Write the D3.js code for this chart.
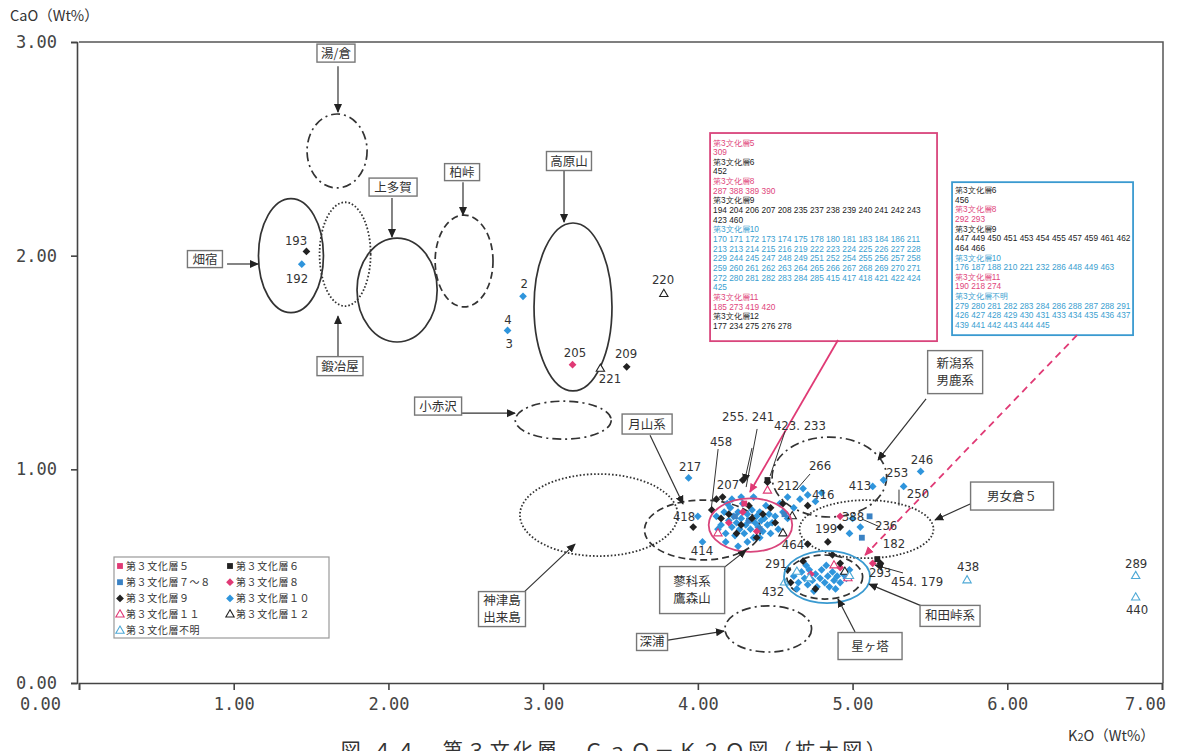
<!DOCTYPE html>
<html><head><meta charset="utf-8">
<script src="https://cdn.jsdelivr.net/npm/d3@7"></script>
<style>
body{margin:0;background:#fff}
svg{display:block}
.num{font-family:"Liberation Sans Narrow","Arial Narrow","DejaVu Sans Condensed","Liberation Sans",sans-serif;font-size:13px;fill:#333}
.jp{font-family:"Noto Sans CJK JP","Noto Sans CJK SC",sans-serif;fill:#333}
.boxtxt{font-family:"Liberation Sans",Arial,sans-serif;font-size:8.3px}
</style>
</head><body>
<svg id="chart" width="1188" height="751"></svg>
<script>
// ---- axes ----
const xTicks = [0, 1, 2, 3, 4, 5, 6, 7];
const yTicks = [0, 1, 2, 3];

// ---- K2O / CaO (wt%) per cultural layer: [K2O, CaO] ----
const layer5 = [[4.30, 0.84]];
const layer6 = [[4.45, 0.95], [5.16, 0.58]];
const layer7to8 = [[4.24, 0.78], [4.40, 0.72], [5.06, 0.68], [5.11, 0.78], [4.56, 0.79], [4.33, 0.76]];
const layer8 = [[3.19, 1.49], [4.92, 0.78], [4.20, 0.75], [4.38, 0.71], [4.73, 0.51], [4.92, 0.54], [5.13, 0.56], [4.29, 0.80]];
const layer9 = [[1.47, 2.02], [3.54, 1.48], [3.97, 0.73], [4.09, 0.81], [4.16, 0.87], [4.29, 0.95], [4.15, 0.77],
  [4.20, 0.79], [4.28, 0.74], [4.35, 0.77], [4.42, 0.79], [4.25, 0.70], [4.38, 0.68], [4.50, 0.75], [4.33, 0.83],
  [4.47, 0.82], [4.71, 0.83], [4.71, 0.65], [4.84, 0.66], [4.92, 0.73], [4.68, 0.57], [4.60, 0.47], [4.87, 0.60],
  [4.92, 0.56], [5.18, 0.56], [4.76, 0.44], [4.58, 0.53], [4.45, 0.94], [4.12, 0.86], [4.55, 0.84]];
const layer10 = [[1.44, 1.96], [2.87, 1.81], [2.77, 1.65], [3.94, 0.96], [4.03, 0.66], [4.00, 0.78],
  [5.13, 0.92], [5.20, 0.95], [5.44, 0.99], [5.33, 0.92],
  [4.12, 0.78], [4.15, 0.74], [4.17, 0.80], [4.18, 0.70], [4.20, 0.76], [4.21, 0.82], [4.22, 0.73], [4.23, 0.78],
  [4.24, 0.69], [4.25, 0.75], [4.26, 0.80], [4.27, 0.72], [4.28, 0.77], [4.29, 0.84], [4.30, 0.70], [4.31, 0.74],
  [4.32, 0.79], [4.33, 0.76], [4.34, 0.72], [4.35, 0.81], [4.36, 0.68], [4.37, 0.75], [4.38, 0.78], [4.39, 0.73],
  [4.40, 0.80], [4.41, 0.76], [4.42, 0.71], [4.43, 0.77], [4.44, 0.83], [4.45, 0.74], [4.46, 0.79], [4.48, 0.75],
  [4.50, 0.78], [4.52, 0.72], [4.55, 0.80], [4.58, 0.77], [4.28, 0.87], [4.22, 0.86], [4.36, 0.87], [4.18, 0.66],
  [4.40, 0.68], [4.13, 0.72], [4.47, 0.70], [4.32, 0.66], [4.19, 0.84], [4.26, 0.64],
  [4.58, 0.87], [4.66, 0.86], [4.71, 0.88], [4.68, 0.91], [4.76, 0.85], [4.62, 0.82], [4.80, 0.89], [4.53, 0.84],
  [5.05, 0.73], [5.00, 0.77], [4.98, 0.70],
  [4.62, 0.50], [4.65, 0.47], [4.67, 0.52], [4.69, 0.49], [4.71, 0.46], [4.72, 0.53], [4.74, 0.48], [4.76, 0.51],
  [4.77, 0.45], [4.79, 0.49], [4.80, 0.53], [4.82, 0.47], [4.84, 0.50], [4.85, 0.45], [4.87, 0.52], [4.88, 0.48],
  [4.90, 0.50], [4.92, 0.47], [4.94, 0.51], [4.96, 0.49], [4.70, 0.55], [4.83, 0.55], [4.64, 0.44], [4.75, 0.43],
  [4.89, 0.44], [4.98, 0.53]];
const layer11 = [[4.45, 0.90], [4.13, 0.70], [4.88, 0.55], [4.97, 0.49]];
const layer12 = [[3.78, 1.82], [3.37, 1.47], [4.61, 0.78], [4.55, 0.70], [4.95, 0.52]];
const layerUnknown = [[5.74, 0.48], [6.83, 0.50], [6.83, 0.40], [4.56, 0.47], [4.64, 0.52], [4.98, 0.50], [4.72, 0.49]];

// ---- source-area ellipses: centre K2O, centre CaO, half-width, half-height ----
const sourceAreas = [
  {name: "湯/倉", cx: 1.668, cy: 2.49, rx: 0.194, ry: 0.173, line: "dashdot"},
  {name: "畑宿", cx: 1.37, cy: 2.00, rx: 0.21, ry: 0.267, line: "solid"},
  {name: "鍛冶屋", cx: 1.72, cy: 2.007, rx: 0.165, ry: 0.243, line: "dotted"},
  {name: "上多賀", cx: 2.056, cy: 1.839, rx: 0.259, ry: 0.243, line: "solid"},
  {name: "柏峠", cx: 2.489, cy: 1.975, rx: 0.187, ry: 0.215, line: "dashed"},
  {name: "高原山", cx: 3.193, cy: 1.76, rx: 0.252, ry: 0.393, line: "solid"},
  {name: "小赤沢", cx: 3.13, cy: 1.23, rx: 0.31, ry: 0.089, line: "dashdot"},
  {name: "神津島", cx: 3.36, cy: 0.786, rx: 0.51, ry: 0.192, line: "dotted"},
  {name: "月山系", cx: 4.03, cy: 0.716, rx: 0.375, ry: 0.14, line: "dashed"},
  {name: "新潟系", cx: 4.85, cy: 0.964, rx: 0.37, ry: 0.187, line: "dashdot"},
  {name: "男女倉5", cx: 5.09, cy: 0.72, rx: 0.433, ry: 0.136, line: "dotted"},
  {name: "深浦", cx: 4.455, cy: 0.253, rx: 0.28, ry: 0.108, line: "dashdot"},
  {name: "和田峠系", cx: 4.82, cy: 0.496, rx: 0.245, ry: 0.103, line: "dashed"}
];
const highlightAreas = [
  {name: "蓼科系", cx: 4.34, cy: 0.739, rx: 0.27, ry: 0.125, color: "pink"},
  {name: "星ヶ塔", cx: 4.835, cy: 0.496, rx: 0.278, ry: 0.122, color: "blue"}
];

// ---- boxed area names with arrows (from -> to, in K2O/CaO units) ----
const areaLabels = [
  {t: ["湯/倉"], x: 1.661, y: 2.948, w: 38, h: 18, a: [1.674, 2.887, 1.674, 2.672]},
  {t: ["畑宿"], x: 0.814, y: 1.984, w: 35, h: 17, a: [0.957, 1.961, 1.157, 1.961]},
  {t: ["上多賀"], x: 2.030, y: 2.321, w: 48, h: 18, a: [2.023, 2.27, 2.023, 2.087]},
  {t: ["鍛冶屋"], x: 1.687, y: 1.483, w: 46, h: 19, a: [1.674, 1.530, 1.674, 1.717]},
  {t: ["柏峠"], x: 2.476, y: 2.391, w: 35, h: 17, a: [2.482, 2.344, 2.482, 2.19]},
  {t: ["高原山"], x: 3.167, y: 2.443, w: 45, h: 19, a: [3.135, 2.396, 3.135, 2.157]},
  {t: ["小赤沢"], x: 2.321, y: 1.296, w: 47, h: 18, a: [2.476, 1.263, 2.818, 1.263]},
  {t: ["月山系"], x: 3.672, y: 1.212, w: 50, h: 20, a: [3.691, 1.16, 3.904, 0.838]},
  {t: ["新潟系", "男鹿系"], x: 5.663, y: 1.455, w: 55, h: 43, a: [5.475, 1.33, 5.165, 1.044]},
  {t: ["男女倉５"], x: 6.031, y: 0.875, w: 83, h: 28, a: [5.760, 0.838, 5.533, 0.763]},
  {t: ["蓼科系", "鷹森山"], x: 3.963, y: 0.435, w: 65, h: 47, a: [4.156, 0.533, 4.312, 0.622]},
  {t: ["神津島", "出来島"], x: 2.734, y: 0.346, w: 47, h: 35, a: [2.883, 0.43, 3.206, 0.65]},
  {t: ["深浦"], x: 3.704, y: 0.192, w: 31, h: 17, a: [3.807, 0.201, 4.169, 0.243]},
  {t: ["和田峠系"], x: 5.630, y: 0.314, w: 60, h: 21, a: [5.449, 0.36, 5.107, 0.463]},
  {t: ["星ヶ塔"], x: 5.113, y: 0.173, w: 64, h: 27, a: [5.016, 0.239, 4.906, 0.393]}
];

// ---- sample numbers beside points ----
const pointLabels = [
  {t: "193", x: 1.403, y: 2.073}, {t: "192", x: 1.409, y: 1.895}, {t: "2", x: 2.877, y: 1.872},
  {t: "4", x: 2.773, y: 1.703}, {t: "3", x: 2.78, y: 1.591}, {t: "205", x: 3.206, y: 1.549},
  {t: "209", x: 3.536, y: 1.54}, {t: "221", x: 3.432, y: 1.427}, {t: "220", x: 3.775, y: 1.89},
  {t: "217", x: 3.95, y: 1.011}, {t: "458", x: 4.15, y: 1.132}, {t: "255. 241", x: 4.325, y: 1.245},
  {t: "423. 233", x: 4.66, y: 1.203}, {t: "207", x: 4.195, y: 0.927}, {t: "212", x: 4.583, y: 0.922},
  {t: "266", x: 4.79, y: 1.02}, {t: "418", x: 3.911, y: 0.781}, {t: "414", x: 4.027, y: 0.618},
  {t: "416", x: 4.81, y: 0.88}, {t: "413", x: 5.048, y: 0.922}, {t: "253", x: 5.288, y: 0.983},
  {t: "246", x: 5.449, y: 1.044}, {t: "250", x: 5.423, y: 0.889}, {t: "388", x: 5.003, y: 0.781},
  {t: "199", x: 4.829, y: 0.725}, {t: "236", x: 5.217, y: 0.739}, {t: "182", x: 5.268, y: 0.655},
  {t: "464", x: 4.615, y: 0.646}, {t: "291", x: 4.506, y: 0.557}, {t: "432", x: 4.486, y: 0.426},
  {t: "293", x: 5.178, y: 0.515}, {t: "454. 179", x: 5.417, y: 0.477}, {t: "438", x: 5.747, y: 0.543},
  {t: "289", x: 6.833, y: 0.557}, {t: "440", x: 6.839, y: 0.346}
];
// thin leader lines [x1, y1, x2, y2]
const leaders = [
  [4.131, 1.095, 4.085, 0.805], [4.383, 1.189, 4.312, 0.917], [4.564, 1.179, 4.467, 0.969],
  [4.725, 0.978, 4.641, 0.908], [5.178, 0.73, 5.061, 0.767], [5.30, 0.905, 5.30, 0.83]
];
const leaderArrows = [[5.326, 0.515, 5.145, 0.552], [4.35, 1.10, 4.30, 0.94]];

// ---- sample-number lists in the two callout boxes ----
const pinkBox = {x0: 4.079, x1: 5.546, y0: 2.574, y1: 1.600};
const pinkLines = [
  ["第3文化層5", "p"], ["309", "p"], ["第3文化層6", "k"], ["452", "k"], ["第3文化層8", "p"],
  ["287 388 389 390", "p"], ["第3文化層9", "k"],
  ["194 204 206 207 208 235 237 238 239 240 241 242 243", "k"], ["423 460", "k"], ["第3文化層10", "b"],
  ["170 171 172 173 174 175 178 180 181 183 184 186 211", "b"],
  ["213 213 214 215 216 219 222 223 224 225 226 227 228", "b"],
  ["229 244 245 247 248 249 251 252 254 255 256 257 258", "b"],
  ["259 260 261 262 263 264 265 266 267 268 269 270 271", "b"],
  ["272 280 281 282 283 284 285 415 417 418 421 422 424", "b"], ["425", "b"],
  ["第3文化層11", "p"], ["185 273 419 420", "p"], ["第3文化層12", "k"], ["177 234 275 276 278", "k"]
];
const blueBox = {x0: 5.643, x1: 6.813, y0: 2.344, y1: 1.628};
const blueLines = [
  ["第3文化層6", "k"], ["456", "k"], ["第3文化層8", "p"], ["292 293", "p"], ["第3文化層9", "k"],
  ["447 449 450 451 453 454 455 457 459 461 462", "k"], ["464 466", "k"], ["第3文化層10", "b"],
  ["176 187 188 210 221 232 286 448 449 463", "b"], ["第3文化層11", "p"], ["190 218 274", "p"],
  ["第3文化層不明", "b"], ["279 280 281 282 283 284 286 288 287 288 291", "b"],
  ["426 427 428 429 430 431 433 434 435 436 437", "b"], ["439 441 442 443 444 445", "b"]
];
const pinkPointer = [4.906, 1.605, 4.337, 0.894];
const bluePointer = [6.451, 1.628, 5.081, 0.599];

// ---- drawing ----
const x = d3.scaleLinear().domain([0, 7]).range([79, 1162]);
const y = d3.scaleLinear().domain([0, 3]).range([683, 42]);
const svg = d3.select("#chart");
const PINK = "#e03a75", BLUE = "#2f95dc", BLUESQ = "#3b82c4", LBLUE = "#4fa9d6", BLK = "#222";
const txtColor = {p: "#e0457b", k: "#222", b: "#3aa0d0"};

const defs = svg.append("defs");
function arrowMarker(id, color) {
  defs.append("marker").attr("id", id).attr("viewBox", "0 0 10 10").attr("refX", 9).attr("refY", 5)
    .attr("markerWidth", 9).attr("markerHeight", 9).attr("orient", "auto-start-reverse")
    .attr("markerUnits", "userSpaceOnUse")
    .append("path").attr("d", "M0,0.5 L10,5 L0,9.5 z").attr("fill", color);
}
arrowMarker("arr", "#222");
arrowMarker("arrP", PINK);
arrowMarker("arrS", "#222");

// frame
svg.append("path").attr("d", `M${x(0)},${y(3)}H${x(7) + 1}V${y(0)}`).attr("fill", "none")
  .attr("stroke", "#555").attr("stroke-width", 1.5);

const xAxis = svg.append("g").attr("transform", `translate(0,${y(0)})`)
  .call(d3.axisBottom(x).tickValues(xTicks).tickSize(7).tickPadding(8).tickFormat(d => d.toFixed(2)));
xAxis.selectAll("text").attr("dx", d => d === 0 ? -39 : d === 7 ? -17 : 0);
const yAxis = svg.append("g").attr("transform", `translate(${x(0) - 2},0)`)
  .call(d3.axisLeft(y).tickValues(yTicks).tickSize(6).tickPadding(14).tickFormat(d => d.toFixed(2)));
[xAxis, yAxis].forEach(g => {
  g.select(".domain").attr("stroke", "#444").attr("stroke-width", 1.6);
  g.selectAll(".tick line").attr("stroke", "#444").attr("stroke-width", 1.6);
  g.selectAll("text").attr("font-family", "'DejaVu Sans Mono', monospace").attr("font-size", 17)
    .attr("fill", "#444");
});

svg.append("text").attr("class", "jp").attr("x", 10).attr("y", 21).attr("font-size", 14.5).text("CaO（Wt%）");
const kt = svg.append("text").attr("class", "jp").attr("x", 1068).attr("y", 741).attr("font-size", 14.5);
kt.append("tspan").text("K");
kt.append("tspan").attr("font-size", 11).text("2");
kt.append("tspan").text("O（Wt%）");

// ellipses
const dashes = {solid: null, dashed: "7,4", dotted: "1.6,2", dashdot: "9,4,2,4"};
svg.append("g").selectAll("ellipse").data(sourceAreas).join("ellipse")
  .attr("cx", d => x(d.cx)).attr("cy", d => y(d.cy))
  .attr("rx", d => x(d.cx + d.rx) - x(d.cx)).attr("ry", d => y(d.cy - d.ry) - y(d.cy))
  .attr("fill", "none").attr("stroke", "#333")
  .attr("stroke-width", d => d.line === "dotted" ? 1.8 : 1.7)
  .attr("stroke-dasharray", d => dashes[d.line]);

// box callouts
function callout(box, lines, color, offset) {
  const g = svg.append("g");
  g.append("rect").attr("x", x(box.x0)).attr("y", y(box.y0))
    .attr("width", x(box.x1) - x(box.x0)).attr("height", y(box.y1) - y(box.y0))
    .attr("fill", "#fff").attr("stroke", color).attr("stroke-width", 1.8);
  g.selectAll("text").data(lines).join("text").attr("class", "boxtxt")
    .attr("x", x(box.x0) + 3).attr("y", (d, i) => y(box.y0) + offset + i * 9.65)
    .attr("fill", d => txtColor[d[1]]).text(d => d[0]);
}
callout(pinkBox, pinkLines, "#d9457c", 12.5);
callout(blueBox, blueLines, "#3a9ad0", 10.8);

svg.append("line").attr("x1", x(pinkPointer[0])).attr("y1", y(pinkPointer[1]))
  .attr("x2", x(pinkPointer[2])).attr("y2", y(pinkPointer[3]))
  .attr("stroke", PINK).attr("stroke-width", 1.8).attr("marker-end", "url(#arrP)");
svg.append("line").attr("x1", x(bluePointer[0])).attr("y1", y(bluePointer[1]))
  .attr("x2", x(bluePointer[2])).attr("y2", y(bluePointer[3]))
  .attr("stroke", PINK).attr("stroke-width", 1.8).attr("stroke-dasharray", "7,5")
  .attr("marker-end", "url(#arrP)");

// leader lines
svg.append("g").selectAll("line").data(leaders).join("line")
  .attr("x1", d => x(d[0])).attr("y1", d => y(d[1])).attr("x2", d => x(d[2])).attr("y2", d => y(d[3]))
  .attr("stroke", "#333").attr("stroke-width", 1);
svg.append("g").selectAll("line").data(leaderArrows).join("line")
  .attr("x1", d => x(d[0])).attr("y1", d => y(d[1])).attr("x2", d => x(d[2])).attr("y2", d => y(d[3]))
  .attr("stroke", "#333").attr("stroke-width", 1).attr("marker-end", "url(#arrS)");

// points
const diamond = d3.symbol().type(d3.symbolSquare).size(30)();
const square = d3.symbol().type(d3.symbolSquare).size(34)();
const tri = d3.symbol().type(d3.symbolTriangle).size(30)();
const series = [
  {name: "第３文化層５", data: layer5, shape: "square", color: PINK},
  {name: "第３文化層６", data: layer6, shape: "square", color: BLK},
  {name: "第３文化層７～８", data: layer7to8, shape: "square", color: BLUESQ},
  {name: "第３文化層８", data: layer8, shape: "diamond", color: PINK},
  {name: "第３文化層９", data: layer9, shape: "diamond", color: BLK},
  {name: "第３文化層１０", data: layer10, shape: "diamond", color: BLUE},
  {name: "第３文化層１１", data: layer11, shape: "tri", color: PINK},
  {name: "第３文化層１２", data: layer12, shape: "tri", color: BLK},
  {name: "第３文化層不明", data: layerUnknown, shape: "tri", color: LBLUE}
];
function drawMark(sel, s) {
  if (s.shape === "tri") {
    sel.attr("d", tri).attr("fill", "#fff").attr("stroke", s.color).attr("stroke-width", 1.1);
  } else if (s.shape === "diamond") {
    sel.attr("d", diamond).attr("fill", s.color);
  } else {
    sel.attr("d", square).attr("fill", s.color);
  }
}
const order = [5, 6, 2, 3, 4, 1, 0, 7, 8];
order.forEach(i => {
  const s = series[i];
  svg.append("g").selectAll("path").data(s.data).join("path")
    .attr("transform", d => `translate(${x(d[0])},${y(d[1])})${s.shape === "diamond" ? " rotate(45)" : ""}`)
    .call(drawMark, s);
});

// highlighted ellipses over the points
svg.append("g").selectAll("ellipse").data(highlightAreas).join("ellipse")
  .attr("cx", d => x(d.cx)).attr("cy", d => y(d.cy))
  .attr("rx", d => x(d.cx + d.rx) - x(d.cx)).attr("ry", d => y(d.cy - d.ry) - y(d.cy))
  .attr("fill", "none").attr("stroke", d => d.color === "pink" ? "#d9457c" : "#3a9ad0").attr("stroke-width", 1.8);

// point numbers
svg.append("g").selectAll("text").data(pointLabels).join("text").attr("class", "num")
  .attr("x", d => x(d.x)).attr("y", d => y(d.y) + 4.5).attr("text-anchor", "middle").text(d => d.t);

// boxed area names with arrows
const al = svg.append("g");
areaLabels.forEach(d => {
  const cx = x(d.x), cy = y(d.y);
  al.append("line").attr("x1", x(d.a[0])).attr("y1", y(d.a[1])).attr("x2", x(d.a[2])).attr("y2", y(d.a[3]))
    .attr("stroke", "#333").attr("stroke-width", 1.2).attr("marker-end", "url(#arr)");
  al.append("rect").attr("x", cx - d.w / 2).attr("y", cy - d.h / 2).attr("width", d.w).attr("height", d.h)
    .attr("fill", "#fff").attr("stroke", "#777").attr("stroke-width", 1.4);
  const lh = 17;
  d.t.forEach((s, i) => {
    al.append("text").attr("class", "jp").attr("x", cx).attr("font-size", 12.5)
      .attr("y", cy + 4.5 + (i - (d.t.length - 1) / 2) * lh).attr("text-anchor", "middle").text(s);
  });
});

// legend
const lg = svg.append("g");
lg.append("rect").attr("x", 114).attr("y", 557).attr("width", 215).attr("height", 81)
  .attr("fill", "#fff").attr("stroke", "#999").attr("stroke-width", 1.2);
series.forEach((s, i) => {
  const col = i === 8 ? 0 : i % 2, row = Math.floor(i / 2);
  const mx = 120 + col * 110, my = 566 + row * 16.2;
  lg.append("path").attr("transform", `translate(${mx},${my})${s.shape === "diamond" ? " rotate(45)" : ""}`)
    .call(drawMark, s);
  lg.append("text").attr("class", "jp").attr("x", mx + 6).attr("y", my + 3.5).attr("font-size", 10)
    .attr("letter-spacing", 0.6).text(s.name);
});

// figure caption (bottom edge)
svg.append("text").attr("class", "jp").attr("x", 615).attr("y", 758).attr("text-anchor", "middle")
  .attr("font-size", 20).attr("fill", "#444").attr("letter-spacing", 3.5)
  .text("図 ４４　第３文化層　ＣａＯ－Ｋ２Ｏ図（拡大図）");
</script>
</body></html>
